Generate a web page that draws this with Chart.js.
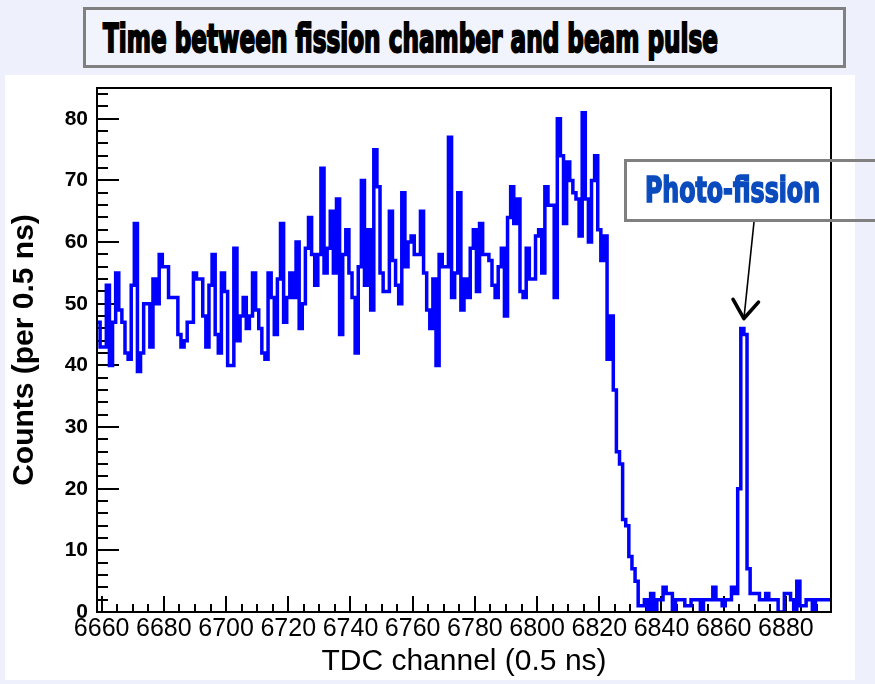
<!DOCTYPE html>
<html><head><meta charset="utf-8">
<script src="https://cdn.jsdelivr.net/npm/chart.js@4.4.1/dist/chart.umd.min.js"></script>
<style>
html,body{margin:0;padding:0;background:#eef1fc;width:875px;height:684px;overflow:hidden;}
#panel{position:absolute;left:5px;top:75px;width:850px;height:605px;background:#fff;}
#c{position:absolute;left:0;top:0;}
.box{position:absolute;border:3px solid #808080;box-sizing:border-box;}
#titleBox{left:83px;top:7px;width:763px;height:61px;background:#f1f3fd;}
#pfBox{left:624px;top:159px;width:270px;height:63px;}
.txt{position:absolute;white-space:nowrap;font-family:'Liberation Sans Narrow','DejaVu Sans Condensed','Liberation Sans',sans-serif;font-weight:bold;line-height:1;transform-origin:0 0;}
#title{left:103px;top:19px;font-size:39px;color:#000;-webkit-text-stroke:2px #000;text-shadow:1px 1px 0 #fff;}
#pf{left:645px;top:173px;font-size:35px;color:#0a4bbd;-webkit-text-stroke:1.6px #0a4bbd;}
</style></head><body>
<div id="panel"></div>
<canvas id="c" width="875" height="684"></canvas>
<div class="box" id="titleBox"></div>
<div class="txt" id="title">Time between fission chamber and beam pulse</div>
<div class="box" id="pfBox"></div>
<div class="txt" id="pf">Photo-fission</div>
<script>
// ---- data ----
const firstChannel = 6659;   // centre of first bin (TDC channel)
const binWidth = 1;
const counts = [
  47,43,43,53,40,47,55,49,47,42,
  41,53,63,39,42,50,50,43,54,50,
  58,56,56,51,51,51,45,43,44,47,
  47,55,54,54,48,43,53,58,45,42,
  55,52,40,40,59,44,48,51,46,48,
  55,49,46,42,41,55,51,45,54,63,
  47,51,55,51,60,46,50,59,64,58,
  53,58,72,55,59,65,55,67,45,58,
  62,55,51,42,56,70,53,62,49,75,
  69,55,52,52,65,57,53,50,68,56,
  60,61,58,58,65,55,49,46,54,40,
  58,56,56,77,51,55,68,49,54,51,
  59,62,52,63,58,58,57,53,51,56,
  59,48,64,69,63,67,52,51,59,54,
  54,61,62,55,69,66,66,51,80,74,
  63,73,70,68,67,61,81,67,60,70,
  74,62,57,61,41,48,36,26,24,15,
  14,9,7,5,1,1,2,0,3,0,
  2,2,4,3,3,0,2,2,2,1,
  1,2,2,2,0,2,2,2,4,2,
  2,1,2,2,4,3,20,46,45,7,
  3,3,3,2,2,3,2,2,2,0,
  0,3,3,2,0,5,1,1,2,2,
  0,2,2,2,2,2
];
const xTickValues = [6660,6680,6700,6720,6740,6760,6780,6800,6820,6840,6860,6880];
const yTickValues = [0,10,20,30,40,50,60,70,80];
const xMin = 6658.5, xMax = 6894.5;
const yMin = 0, yMax = 85;
const xTitle = 'TDC channel (0.5 ns)';
const yTitle = 'Counts (per 0.5 ns)';
const arrowTip = {x: 6866.5, y: 47.6};   // annotation anchor (data space)

// ---- build step points at bin edges ----
const points = counts.map((v, i) => ({x: firstChannel + i * binWidth - binWidth / 2, y: v}));
points.push({x: firstChannel + counts.length * binWidth - binWidth / 2, y: counts[counts.length - 1]});

const FAM = "'Liberation Sans', Arial, sans-serif";
const NARROW = "'Liberation Sans Narrow', 'Arial Narrow', 'Liberation Sans', sans-serif";

const ticksPlugin = {
  id: 'rootTicks',
  beforeDatasetsDraw(chart) {
    const {ctx, chartArea: a, scales: {x, y}} = chart;
    ctx.save();
    ctx.strokeStyle = '#000';
    ctx.lineWidth = 2;
    ctx.beginPath();
    for (let v = yMin; v <= yMax; v += 2) {
      const py = Math.round(y.getPixelForValue(v));
      const len = (v % 10 === 0) ? 22 : 11;
      ctx.moveTo(a.left, py); ctx.lineTo(a.left + len, py);
    }
    for (let c = 6660; c <= xMax; c += 5) {
      const px = Math.round(x.getPixelForValue(c));
      const len = ((c - 6660) % 20 === 0) ? 16 : 8;
      ctx.moveTo(px, a.bottom); ctx.lineTo(px, a.bottom - len);
    }
    ctx.stroke();
    ctx.restore();
  },
  afterDatasetsDraw(chart) {
    const {ctx, chartArea: a} = chart;
    ctx.save();
    ctx.strokeStyle = '#000';
    ctx.lineWidth = 2;
    ctx.strokeRect(a.left, a.top, a.right - a.left, a.bottom - a.top);
    ctx.restore();
  },
  afterDraw(chart) {
    const {ctx, scales: {x, y}} = chart;
    const tx = x.getPixelForValue(arrowTip.x), ty = y.getPixelForValue(arrowTip.y);
    const sx = 754, sy = 222;
    ctx.save();
    ctx.strokeStyle = '#000';
    ctx.lineWidth = 1.6;
    ctx.beginPath(); ctx.moveTo(sx, sy); ctx.lineTo(tx, ty); ctx.stroke();
    const ang = Math.atan2(ty - sy, tx - sx);
    const L = 22, spread = 0.62;
    ctx.lineWidth = 3.6; ctx.lineCap = 'round'; ctx.lineJoin = 'round';
    ctx.beginPath();
    ctx.moveTo(tx - L * Math.cos(ang - spread), ty - L * Math.sin(ang - spread));
    ctx.lineTo(tx, ty);
    ctx.lineTo(tx - L * Math.cos(ang + spread), ty - L * Math.sin(ang + spread));
    ctx.stroke();
    ctx.restore();
  }
};

new Chart(document.getElementById('c'), {
  type: 'line',
  data: {datasets: [{
    data: points, borderColor: '#0000ff', borderWidth: 3.5, pointRadius: 0,
    stepped: 'before', fill: false, tension: 0, borderJoinStyle: 'miter', borderCapStyle: 'butt'
  }]},
  options: {
    responsive: false, animation: false, devicePixelRatio: 1,
    layout: {padding: {left: 0, top: 88, right: 44, bottom: 0}},
    plugins: {legend: {display: false}, tooltip: {enabled: false}},
    scales: {
      x: {
        type: 'linear', min: xMin, max: xMax,
        grid: {display: false, drawTicks: false}, border: {display: false},
        ticks: {font: {family: NARROW, size: 25}, color: '#000', padding: 2, autoSkip: false,
                maxRotation: 0, includeBounds: false, callback: v => String(v)},
        afterBuildTicks: s => { s.ticks = xTickValues.map(v => ({value: v})); },
        afterFit: s => { s.height = 72; s.paddingLeft = 0; s.paddingRight = 0; },
        title: {display: true, text: xTitle, font: {family: FAM, size: 30}, color: '#000',
                padding: {top: 0, bottom: 4}}
      },
      y: {
        type: 'linear', min: yMin, max: yMax,
        grid: {display: false, drawTicks: false}, border: {display: false},
        ticks: {font: {family: FAM, size: 21, weight: 'bold'}, color: '#000', padding: 9,
                includeBounds: false, callback: v => String(v)},
        afterBuildTicks: s => { s.ticks = yTickValues.map(v => ({value: v})); },
        afterFit: s => { s.width = 97; s.paddingTop = 0; s.paddingBottom = 0; },
        title: {display: true, text: yTitle, font: {family: FAM, size: 30, weight: 'bold'}, color: '#000',
                padding: {top: 7, bottom: 0}}
      }
    }
  },
  plugins: [ticksPlugin]
});

function fitWidth(id, w) {
  const el = document.getElementById(id);
  el.style.transform = 'none';
  const r = el.getBoundingClientRect().width;
  el.style.transform = 'scaleX(' + (w / r) + ')';
}
fitWidth('title', 615);
fitWidth('pf', 175);
</script>
</body></html>
